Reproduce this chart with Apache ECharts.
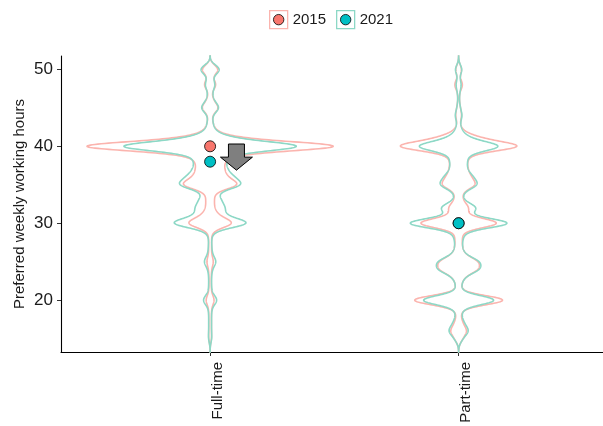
<!DOCTYPE html>
<html>
<head>
<meta charset="utf-8">
<script src="https://cdn.jsdelivr.net/npm/echarts@6/dist/echarts.min.js"></script>
<style>
  html, body { margin: 0; padding: 0; background: #ffffff; }
  #chart { width: 603px; height: 426px; }
</style>
</head>
<body>
<div id="chart"></div>
<script>
// Employment groups on the x axis and survey waves
const groups = ['Full-time', 'Part-time'];
const years = ['2015', '2021'];

// Preferred weekly hours answered (15..50) and the relative frequency of each answer
const hours = [15, 16, 17, 18, 19, 20, 21, 22, 23, 24, 25, 26, 27, 28, 29, 30, 31, 32,
               33, 34, 35, 36, 37, 38, 39, 40, 41, 42, 43, 44, 45, 46, 47, 48, 49, 50];
const fullTime2015 = [1.1, 0.9, 0.9, 0.9, 1.0, 3.5, 0.9, 0.8, 0.8, 1.0, 2.7, 1.0, 1.0, 1.0, 1.5, 19.5, 6, 3,
                      3, 3, 23, 12, 10, 10, 16, 116, 18, 4, 2, 1.2, 7, 2.3, 1, 5, 1.3, 7.3];
const fullTime2021 = [1.3, 1, 1, 1, 1.2, 6, 1.2, 1, 1, 1.5, 5, 1.5, 1.2, 1, 2.5, 33, 10, 11,
                      8, 5, 25, 17, 12, 11, 14, 80, 15, 3.5, 2, 1.5, 7.5, 2.5, 1.5, 4, 1.5, 8.7];
const partTime2015 = [3, 6.5, 3, 1.5, 3, 43, 2, 2, 4, 15, 15, 4, 2.5, 2.5, 3, 36, 5, 8,
                      3, 2.5, 13.5, 9, 6.5, 6, 8, 53, 16, 3, 0.8, 2.4, 1.3, 0.5, 0.6, 3.5, 0.5, 2.7];
const partTime2021 = [3, 8, 4, 2, 3, 34, 2, 2, 4, 16, 16, 4, 2.5, 3, 5, 46, 6, 15,
                      3, 3, 15, 10.5, 6, 6, 7, 36, 8, 2.5, 1, 2.8, 1.2, 0.5, 0.8, 2.2, 0.5, 3];

// Median preferred hours per group
const medians2015 = [40, 30];
const medians2021 = [38, 30];

// Arrow marking the drop of the full-time median (x position, from, to)
const arrowX = 1.106;
const arrowFrom = 40.3;
const arrowTo = 36.9;

const yTicks = [20, 30, 40, 50];

// Kernel density settings
const bandwidth = 0.58;
const maxHalfWidth = 0.495;   // widest violin half-width, in x-axis units

const COLORS = {
  line2015: '#FBB4AE',
  line2021: '#8DD8C6',
  dot2015: '#F8766D',
  dot2021: '#00BFC4'
};
const FONT = '"Liberation Sans", Arial, Helvetica, sans-serif';

function density(weights, v) {
  let s = 0;
  for (let i = 0; i < hours.length; i++) {
    const d = (v - hours[i]) / bandwidth;
    s += weights[i] * Math.exp(-0.5 * d * d);
  }
  return s;
}

const vLow = hours[0] - 3 * bandwidth;
const vHigh = hours[hours.length - 1] + 3 * bandwidth;
const steps = 900;

function profile(weights) {
  const out = [];
  for (let k = 0; k <= steps; k++) {
    const v = vLow + (vHigh - vLow) * k / steps;
    out.push([v, density(weights, v)]);
  }
  return out;
}

const raw = {
  '2015': [profile(fullTime2015), profile(partTime2015)],
  '2021': [profile(fullTime2021), profile(partTime2021)]
};
let globalMax = 0;
years.forEach(y => raw[y].forEach(p => p.forEach(d => { if (d[1] > globalMax) globalMax = d[1]; })));
const profiles = {};
years.forEach(y => {
  profiles[y] = raw[y].map(p => p.map(d => [d[0], d[1] / globalMax * maxHalfWidth]));
});

function violinSeries(year, color) {
  return {
    name: 'violin' + year,
    type: 'custom',
    coordinateSystem: 'cartesian2d',
    silent: true,
    z: 2,
    data: groups.map((g, i) => [i + 1, 30]),
    encode: { x: 0, y: 1 },
    renderItem: function (params, api) {
      const center = api.value(0);
      const prof = profiles[year][params.dataIndex];
      const rightSide = [];
      const leftSide = [];
      for (let k = 0; k < prof.length; k++) {
        rightSide.push(api.coord([center + prof[k][1], prof[k][0]]));
        leftSide.push(api.coord([center - prof[k][1], prof[k][0]]));
      }
      const pts = rightSide.concat(leftSide.reverse());
      return {
        type: 'polygon',
        shape: { points: pts },
        style: { fill: 'none', stroke: color, lineWidth: 1.6 }
      };
    }
  };
}

function medianSeries(year, values, color) {
  return {
    name: year,
    type: 'scatter',
    z: 4,
    symbol: 'circle',
    symbolSize: 11,
    itemStyle: { color: color, borderColor: '#000000', borderWidth: 0.8, opacity: 1 },
    data: values.map((v, i) => [i + 1, v])
  };
}

const arrowSeries = {
  name: 'arrow',
  type: 'custom',
  coordinateSystem: 'cartesian2d',
  silent: true,
  z: 5,
  data: [[arrowX, arrowFrom, arrowTo]],
  encode: { x: 0, y: [1, 2] },
  renderItem: function (params, api) {
    const top = api.coord([api.value(0), api.value(1)]);
    const tip = api.coord([api.value(0), api.value(2)]);
    const shaftHalf = 8, headHalf = 16, headLen = 13;
    const cx = top[0];
    const baseY = tip[1] - headLen;
    const pts = [
      [cx - shaftHalf, top[1]], [cx + shaftHalf, top[1]], [cx + shaftHalf, baseY],
      [cx + headHalf, baseY], [cx, tip[1]], [cx - headHalf, baseY], [cx - shaftHalf, baseY]
    ];
    return {
      type: 'polygon',
      shape: { points: pts },
      style: { fill: '#7F7F7F', stroke: '#000000', lineWidth: 1 }
    };
  }
};

// Legend: outlined key box holding the point glyph, followed by the year
function legendItem(left, year, boxColor, dotColor) {
  return {
    type: 'group',
    left: left,
    top: 10,
    children: [
      { type: 'rect', shape: { x: 0, y: 0, width: 18, height: 18 },
        style: { fill: '#ffffff', stroke: boxColor, lineWidth: 1.3 } },
      { type: 'circle', shape: { cx: 9, cy: 9, r: 5.2 },
        style: { fill: dotColor, stroke: '#000000', lineWidth: 0.8 } },
      { type: 'text', x: 23, y: 9,
        style: { text: year, fill: '#1a1a1a', font: '15px ' + FONT, textVerticalAlign: 'middle' } }
    ]
  };
}

const chart = echarts.init(document.getElementById('chart'), null, { renderer: 'canvas' });
chart.setOption({
  animation: false,
  backgroundColor: '#ffffff',
  grid: { left: 61, right: 0, top: 56, bottom: 74 },
  xAxis: {
    type: 'value',
    min: 0.4,
    max: 2.581,
    splitLine: { show: false },
    axisLine: { show: true, lineStyle: { color: '#000000', width: 1.1 } },
    axisTick: { show: true, length: 4, lineStyle: { color: '#333333' }, customValues: [1, 2] },
    axisLabel: {
      customValues: [1, 2],
      formatter: v => groups[Math.round(v) - 1],
      rotate: 90,
      verticalAlign: 'top',
      margin: 10,
      fontSize: 15,
      fontFamily: FONT,
      color: '#1a1a1a'
    }
  },
  yAxis: {
    type: 'value',
    min: vLow,
    max: vHigh,
    name: 'Preferred weekly working hours',
    nameLocation: 'middle',
    nameGap: 34,
    nameMoveOverlap: false,
    nameTextStyle: { fontSize: 15, fontFamily: FONT, color: '#1a1a1a' },
    splitLine: { show: false },
    axisLine: { show: true, lineStyle: { color: '#000000', width: 1.1 } },
    axisTick: { show: true, length: 4, lineStyle: { color: '#333333' }, customValues: yTicks },
    axisLabel: {
      customValues: yTicks,
      margin: 8,
      fontSize: 17,
      fontFamily: FONT,
      color: '#1a1a1a'
    }
  },
  graphic: [
    legendItem(269, years[0], COLORS.line2015, COLORS.dot2015),
    legendItem(336, years[1], COLORS.line2021, COLORS.dot2021)
  ],
  series: [
    violinSeries('2015', COLORS.line2015),
    violinSeries('2021', COLORS.line2021),
    medianSeries('2015', medians2015, COLORS.dot2015),
    medianSeries('2021', medians2021, COLORS.dot2021),
    arrowSeries
  ]
});
</script>
</body>
</html>
